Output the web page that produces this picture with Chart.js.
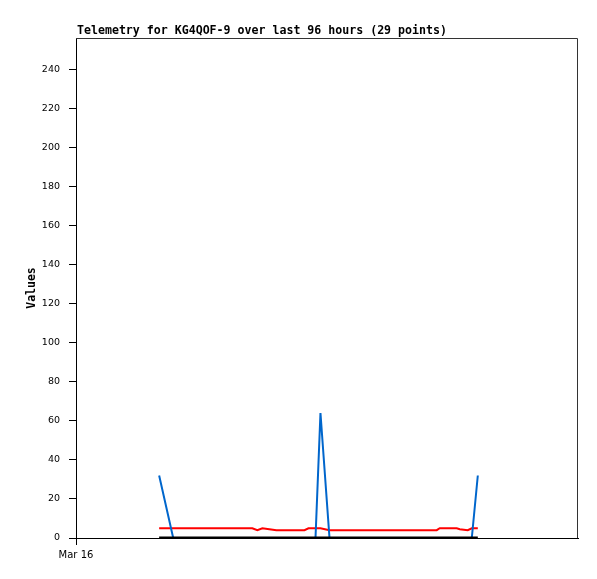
<!DOCTYPE html>
<html>
<head>
<meta charset="utf-8">
<script src="https://cdn.jsdelivr.net/npm/chart.js@4"></script>
<style>
  html, body { margin: 0; padding: 0; background: #fff; }
  #wrap { width: 597px; height: 579px; }
</style>
</head>
<body>
<div id="wrap"><canvas id="myChart" width="597" height="579"></canvas></div>
<script>
// hours since the start of the 96 hour window (Mar 16 00:00)
const hours = [15.90, 18.59, 20.69, 23.57, 26.44, 29.32, 33.72, 34.68, 35.64, 36.98,
               38.32, 40.81, 43.69, 44.46, 45.80, 46.75, 48.48, 52.31, 58.06, 60.93,
               63.81, 66.68, 68.98, 69.56, 72.81, 73.39, 74.92, 75.69, 76.84];
const blueValues = [32, 0, 0, 0, 0, 0, 0, 0, 0, 0,
                    0, 0, 0, 0, 0, 64, 0, 0, 0, 0,
                    0, 0, 0, 0, 0, 0, 0, 0, 32];
const redValues = [5, 5, 5, 5, 5, 5, 5, 4, 5, 4.5,
                   4, 4, 4, 5, 5, 5, 4, 4, 4, 4,
                   4, 4, 4, 5, 5, 4.5, 4, 5, 5];
const blackValues = [0, 0, 0, 0, 0, 0, 0, 0, 0, 0,
                     0, 0, 0, 0, 0, 0, 0, 0, 0, 0,
                     0, 0, 0, 0, 0, 0, 0, 0, 0];
const yTicks = [0, 20, 40, 60, 80, 100, 120, 140, 160, 180, 200, 220, 240];
const xTickLabels = { 0: 'Mar 16' };
const titleText = 'Telemetry for KG4QOF-9 over last 96 hours (29 points)';

function toPoints(vals) {
    return vals.map((v, i) => ({ x: hours[i], y: v }));
}

// draws the title and the box around the plot
const frame = {
    id: 'frame',
    afterDraw(chart) {
        const ctx = chart.ctx;
        const a = chart.chartArea;
        ctx.save();
        ctx.strokeStyle = '#333';
        ctx.lineWidth = 1;
        ctx.beginPath();
        ctx.moveTo(a.left, a.top + 0.5);
        ctx.lineTo(a.right - 0.5, a.top + 0.5);
        ctx.lineTo(a.right - 0.5, a.bottom);
        ctx.stroke();
        ctx.fillStyle = '#000';
        ctx.font = 'bold 11.6px "DejaVu Sans Mono"';
        ctx.textBaseline = 'alphabetic';
        ctx.textAlign = 'left';
        ctx.fillText(titleText, a.left + 1, 34);
        ctx.restore();
    }
};

var ctx = document.getElementById('myChart').getContext('2d');
var myChart = new Chart(ctx, {
    type: 'line',
    data: {
        datasets: [{
            label: 'black',
            data: toPoints(blackValues),
            borderColor: '#000000',
            borderWidth: 3,
            pointRadius: 0,
            tension: 0
        }, {
            label: 'blue',
            data: toPoints(blueValues),
            borderColor: '#0066cc',
            borderWidth: 2,
            pointRadius: 0,
            tension: 0
        }, {
            label: 'red',
            data: toPoints(redValues),
            borderColor: '#ff0000',
            borderWidth: 2,
            pointRadius: 0,
            tension: 0
        }]
    },
    options: {
        responsive: false,
        animation: false,
        layout: { padding: { top: 38, right: 19, left: 25, bottom: 0 } },
        plugins: {
            legend: { display: false },
            tooltip: { enabled: false }
        },
        scales: {
            x: {
                type: 'linear',
                min: 0,
                max: 96,
                afterBuildTicks: s => { s.ticks = Object.keys(xTickLabels).map(v => ({ value: +v })); },
                afterFit: s => { s.height = 41; },
                ticks: {
                    callback: v => xTickLabels[v] || '',
                    color: '#000',
                    font: { family: 'DejaVu Sans', size: 10 },
                    maxRotation: 0,
                    padding: 4
                },
                grid: {
                    drawOnChartArea: false,
                    color: c => (c.tick && c.tick.value === 0 ? '#000' : 'rgba(0,0,0,0)'),
                    tickLength: 7
                },
                border: { color: '#000' }
            },
            y: {
                min: 0,
                max: 256,
                afterBuildTicks: s => { s.ticks = yTicks.map(v => ({ value: v })); },
                afterFit: s => { s.width = 51; },
                ticks: {
                    color: '#000',
                    font: { family: 'DejaVu Sans', size: 9.5 },
                    padding: 9
                },
                grid: { drawOnChartArea: false, color: '#000', tickLength: 7 },
                border: { color: '#000' },
                title: {
                    display: true,
                    text: 'Values',
                    color: '#000',
                    font: { family: 'DejaVu Sans Mono', size: 11.5, weight: 'bold' },
                    padding: { top: 0, bottom: 0 }
                }
            }
        }
    },
    plugins: [frame]
});
</script>
</body>
</html>
